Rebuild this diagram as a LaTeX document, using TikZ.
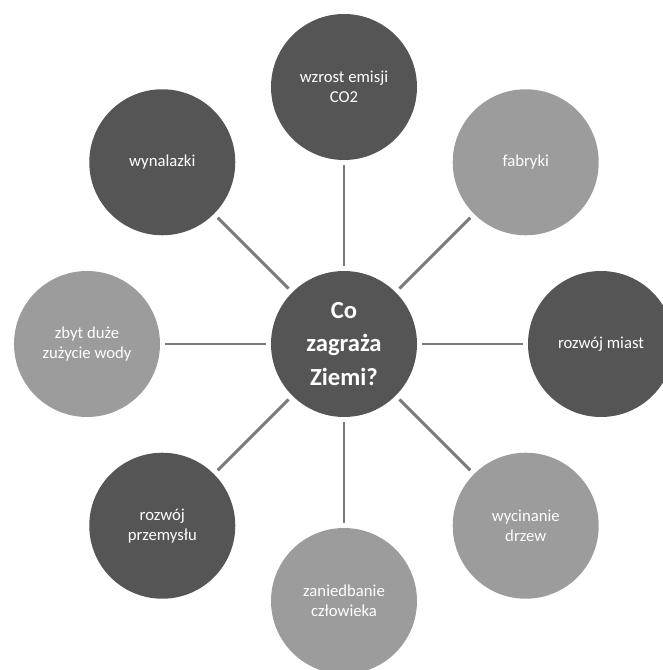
\documentclass[tikz,border=0pt]{standalone}
\usepackage{fontspec}
\setmainfont{Carlito}
\usepackage{tikz}
\usetikzlibrary{positioning}

\definecolor{darkdot}{HTML}{555555}
\definecolor{lightdot}{HTML}{9C9C9C}
\definecolor{spokegray}{HTML}{7A7A7A}

\begin{document}
\begin{tikzpicture}[
    bubble/.style={circle, minimum size=2.92cm, inner sep=0pt, align=center, text=white, font=\fontsize{9.5}{11.5}\selectfont},
    dark/.style={bubble, fill=darkdot},
    light/.style={bubble, fill=lightdot},
    spoke/.style={draw=spokegray, line width=1.7pt, shorten <=0.1cm, shorten >=0.1cm}
    ]

    \useasboundingbox (-6.88,6.88) rectangle (6.38,-6.52);

    % Central question
    \node[dark, font=\fontsize{14}{19}\selectfont\bfseries] (center) at (0,0) {Co\\zagraża\\Ziemi?};

    % Threats around it
    \node[dark]  (emisja)    at (90:5.14)  {wzrost emisji\\CO2};
    \node[light] (fabryki)   at (45:5.14)  {fabryki};
    \node[dark]  (miasta)    at (0:5.14)   {rozwój miast};
    \node[light] (wycinanie) at (-45:5.14) {wycinanie\\drzew};
    \node[light] (czlowiek)  at (-90:5.14) {zaniedbanie\\człowieka};
    \node[dark]  (przemysl)  at (-135:5.14) {rozwój\\przemysłu};
    \node[light] (woda)      at (180:5.14) {zbyt duże\\zużycie wody};
    \node[dark]  (wynalazki) at (135:5.14) {wynalazki};

    % Spokes
    \draw[spoke] (center) -- (emisja);
    \draw[spoke] (center) -- (fabryki);
    \draw[spoke] (center) -- (miasta);
    \draw[spoke] (center) -- (wycinanie);
    \draw[spoke] (center) -- (czlowiek);
    \draw[spoke] (center) -- (przemysl);
    \draw[spoke] (center) -- (woda);
    \draw[spoke] (center) -- (wynalazki);

\end{tikzpicture}
\end{document}
